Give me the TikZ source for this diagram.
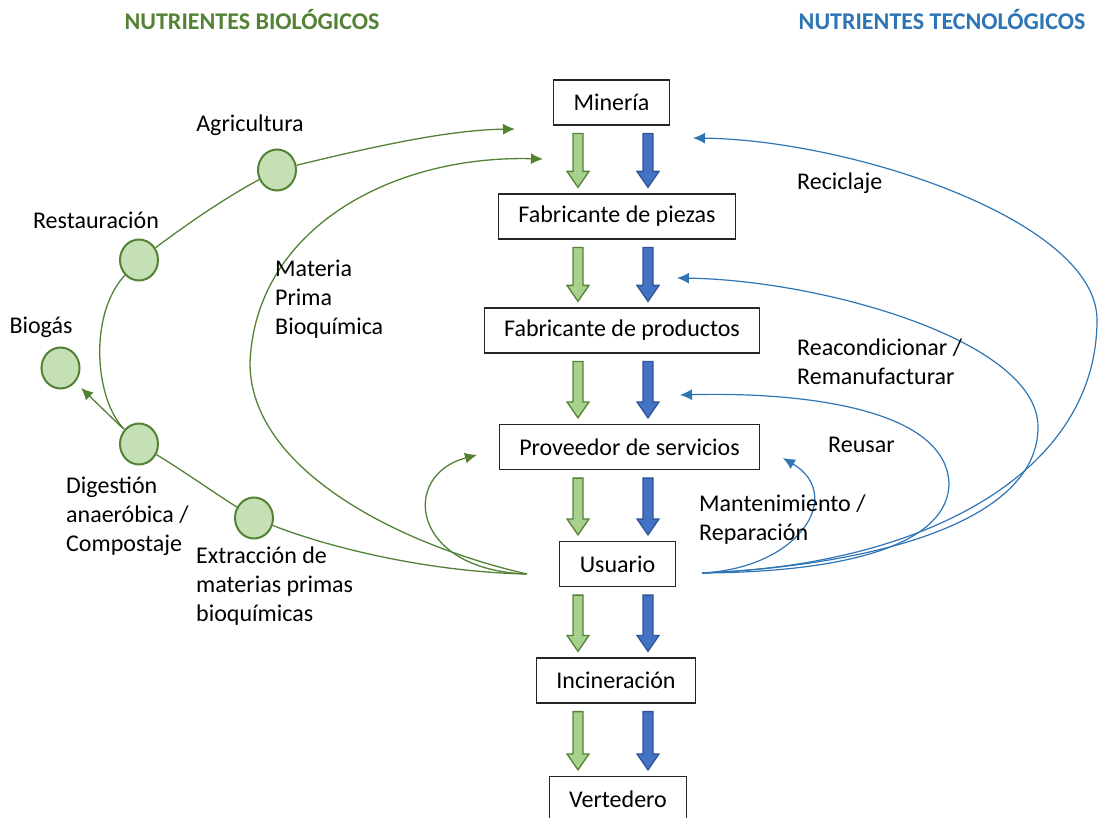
\documentclass[tikz,border=0pt]{standalone}
\usepackage{fontspec}
\setmainfont{Carlito}
\usetikzlibrary{arrows.meta,calc,shapes.geometric}
\definecolor{colbio}{HTML}{548235}
\definecolor{colbiofill}{HTML}{A9D18E}
\definecolor{colcirc}{HTML}{C5E0B4}
\definecolor{coltec}{HTML}{2E75B6}
\definecolor{coltecfill}{HTML}{4472C4}
\definecolor{coltecborde}{HTML}{2F5597}

\begin{document}
\begin{tikzpicture}[x=1pt,y=-1pt,>={Latex[length=12pt,width=11pt]},
        font=\fontsize{24}{29}\selectfont,
        caja/.style={draw=black!85,line width=1.2pt,inner xsep=20pt,minimum height=45pt},
        nodo/.style={ellipse,draw=colbio,fill=colcirc,line width=2pt,minimum width=38pt,minimum height=41pt,inner sep=0pt},
        etiqueta/.style={align=left,anchor=west,inner sep=0pt},
        titulo/.style={inner sep=0pt,font=\fontsize{24}{29}\selectfont\bfseries},
        lineabio/.style={draw=colbio,line width=1.3pt},
        lineatec/.style={draw=coltec,line width=1.2pt}]
            \useasboundingbox (0,0) rectangle (1098,818);
            \node[titulo,text=colbio] (tbio) at (252,20) {NUTRIENTES BIOLÓGICOS};
            \node[titulo,text=coltec] (ttec) at (942,20) {NUTRIENTES TECNOLÓGICOS};
            \node[caja] (min) at (611.5,102.5) {Minería};
            \node[caja] (pie) at (617,216.5) {Fabricante de piezas};
            \node[caja] (pro) at (622,330.5) {Fabricante de productos};
            \node[caja] (prov) at (629.5,447) {Proveedor de servicios};
            \node[caja] (usu) at (617.5,564) {Usuario};
            \node[caja] (inc) at (616,680.5) {Incineración};
            \node[caja] (ver) at (618,799) {Vertedero};
            \foreach \a/\b in {min/pie,pie/pro,pro/prov,prov/usu,usu/inc,inc/ver}
                \foreach \xx/\relleno/\borde in {578/colbiofill/colbio,648/coltecfill/coltecborde}
                    \draw[fill=\relleno,draw=\borde,line width=1.3pt] let \p1=(\xx,0), \p2=(\a.south), \p3=(\b.north) in
                        (\x1-5pt,\y2-8pt) -- (\x1+5pt,\y2-8pt) -- (\x1+5pt,\y3+22pt) -- (\x1+11pt,\y3+22pt)
                        -- (\x1,\y3+6pt) -- (\x1-11pt,\y3+22pt) -- (\x1-5pt,\y3+22pt) -- cycle;
            \coordinate (uL) at (527,574);
            \coordinate (uR) at (702,573);
            \coordinate (fagr) at (515,129);
            \coordinate (fmat) at (543,159);
            \coordinate (fprov) at (477,455);
            \coordinate (frec) at (693,138);
            \coordinate (frea) at (677,278);
            \coordinate (freu) at (680,395);
            \coordinate (fman) at (783,458);
            \node[nodo] (agr) at (277,170) {};
            \node[nodo] (res) at (139,260) {};
            \node[nodo] (bio) at (60.5,368) {};
            \node[nodo] (dig) at (139,444) {};
            \node[nodo] (ext) at (254,518) {};
            \draw[lineabio] (uL) .. controls (430,572) and (330,548) .. (ext);
            \draw[lineabio] (ext) .. controls (210,490) and (185,472) .. (dig);
            \draw[lineabio] (dig) .. controls (95,400) and (88,315) .. (res);
            \draw[lineabio] (res) .. controls (190,222) and (225,198) .. (agr);
            \draw[lineabio,->] (agr) .. controls (380,145) and (450,130) .. (fagr);
            \draw[lineabio,->] (uL) .. controls (400,545) and (250,470) .. (250,363) .. controls (255,230) and (390,155) .. (fmat);
            \draw[lineabio,->] (uL) .. controls (410,570) and (400,475) .. (fprov);
            \draw[lineabio,->,shorten <=2pt,shorten >=8pt] (dig) -- (bio);
            \draw[lineatec,->] (uR) .. controls (930,565) and (1097,470) .. (1097,320) .. controls (1097,220) and (850,140) .. (frec);
            \draw[lineatec,->] (uR) .. controls (880,565) and (1038,520) .. (1038,427) .. controls (1038,340) and (820,280) .. (frea);
            \draw[lineatec,->] (uR) .. controls (860,572) and (949,540) .. (949,483) .. controls (945,405) and (790,392) .. (freu);
            \draw[lineatec,->] (uR) .. controls (800,568) and (845,495) .. (fman);
            \node[inner sep=0pt] (lagr) at (250,125) {Agricultura};
            \node[inner sep=0pt] (lres) at (96,220) {Restauración};
            \node[inner sep=0pt] (lbio) at (41,327) {Biogás};
            \node[etiqueta] (ldig) at (66,516) {Digestión\\anaeróbica /\\Compostaje};
            \node[etiqueta] (lext) at (196,586) {Extracción de\\materias primas\\bioquímicas};
            \node[etiqueta] (lmat) at (275,299) {Materia\\Prima\\Bioquímica};
            \node[etiqueta] (lrec) at (797,183) {Reciclaje};
            \node[etiqueta] (lrea) at (797,362) {Reacondicionar /\\Remanufacturar};
            \node[etiqueta] (lreu) at (828,445) {Reusar};
            \node[etiqueta] (lman) at (699,520) {Mantenimiento /\\Reparación};
        \end{tikzpicture}
\end{document}
